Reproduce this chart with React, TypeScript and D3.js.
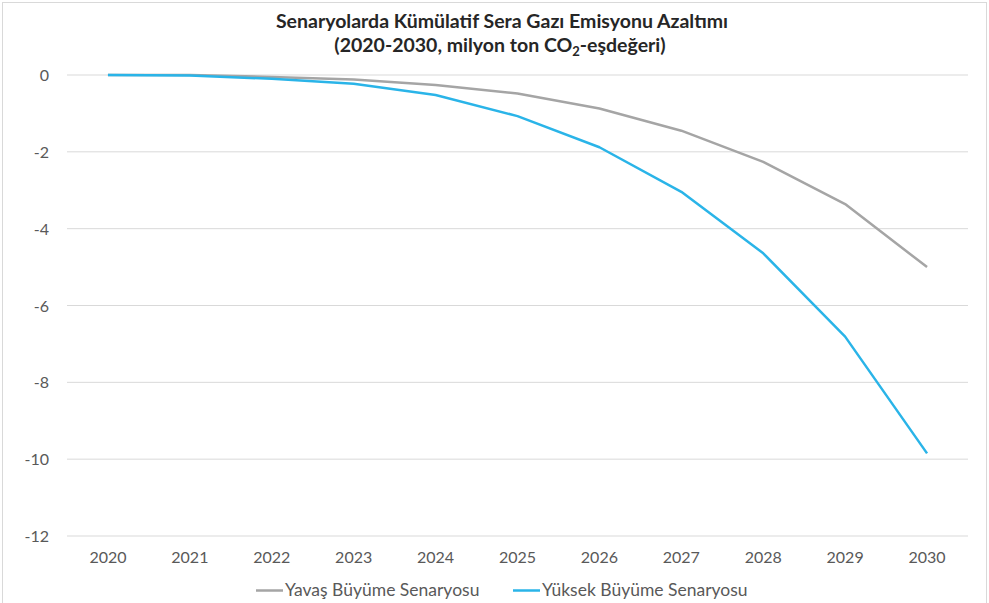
import React from "react";
import * as d3 from "d3";

const years = ["2020", "2021", "2022", "2023", "2024", "2025", "2026", "2027", "2028", "2029", "2030"];
const yavas = [0, 0, -0.05, -0.12, -0.26, -0.48, -0.87, -1.45, -2.26, -3.36, -5.0];
const yuksek = [0, -0.01, -0.1, -0.23, -0.52, -1.07, -1.88, -3.04, -4.64, -6.81, -9.85];
const yTicks = [0, -2, -4, -6, -8, -10, -12];
const seriesNames = ["Yavaş Büyüme Senaryosu", "Yüksek Büyüme Senaryosu"];

const W = 989;
const H = 603;
const left = 67;
const right = 968;
const top = 75;
const bottom = 536;
const font = "Lato, 'Open Sans', sans-serif";
const textColor = "#595959";

export default function App() {
  const x = d3.scaleBand<string>().domain(years).range([left, right]);
  const y = d3.scaleLinear().domain([0, -12]).range([top, bottom]);
  const xc = (d: string) => (x(d) as number) + x.bandwidth() / 2;
  const line = d3
    .line<number>()
    .x((_, i) => xc(years[i]))
    .y((v) => y(v));
  const series = [
    { name: seriesNames[0], values: yavas, color: "#A5A5A5" },
    { name: seriesNames[1], values: yuksek, color: "#2AB4E8" },
  ];
  const legendX = [256, 513];
  return (
    <svg
      width={W}
      height={H}
      style={{ position: "fixed", left: 0, top: 0, background: "#fff" }}
      fontFamily={font}
    >
      <rect x={2.5} y={2.5} width={W - 5} height={H} fill="#fff" stroke="#D9D9D9" />
      <text x={502} y={28} textAnchor="middle" fontSize={19.5} fontWeight="bold" fill="#262626">
        Senaryolarda Kümülatif Sera Gazı Emisyonu Azaltımı
      </text>
      <text x={500} y={51.5} textAnchor="middle" fontSize={19.5} fontWeight="bold" fill="#262626">
        (2020-2030, milyon ton CO
        <tspan fontSize={13} dy={4}>2</tspan>
        <tspan dy={-4}>-eşdeğeri)</tspan>
      </text>
      {yTicks.map((t) => (
        <g key={t}>
          <line x1={left} x2={right} y1={y(t)} y2={y(t)} stroke="#D9D9D9" strokeWidth={1} />
          <text x={49} y={y(t) + 6} textAnchor="end" fontSize={16} fill={textColor}>
            {t}
          </text>
        </g>
      ))}
      {years.map((yr) => (
        <text key={yr} x={xc(yr)} y={563} textAnchor="middle" fontSize={16} fill={textColor}>
          {yr}
        </text>
      ))}
      {series.map((s) => (
        <path
          key={s.name}
          d={line(s.values) as string}
          fill="none"
          stroke={s.color}
          strokeWidth={2.5}
          strokeLinejoin="round"
        />
      ))}
      {series.map((s, i) => (
        <g key={s.name}>
          <line x1={legendX[i]} x2={legendX[i] + 27} y1={590.5} y2={590.5} stroke={s.color} strokeWidth={2.5} />
          <text x={legendX[i] + 29} y={595.5} fontSize={17.5} fill={textColor}>
            {s.name}
          </text>
        </g>
      ))}
    </svg>
  );
}
